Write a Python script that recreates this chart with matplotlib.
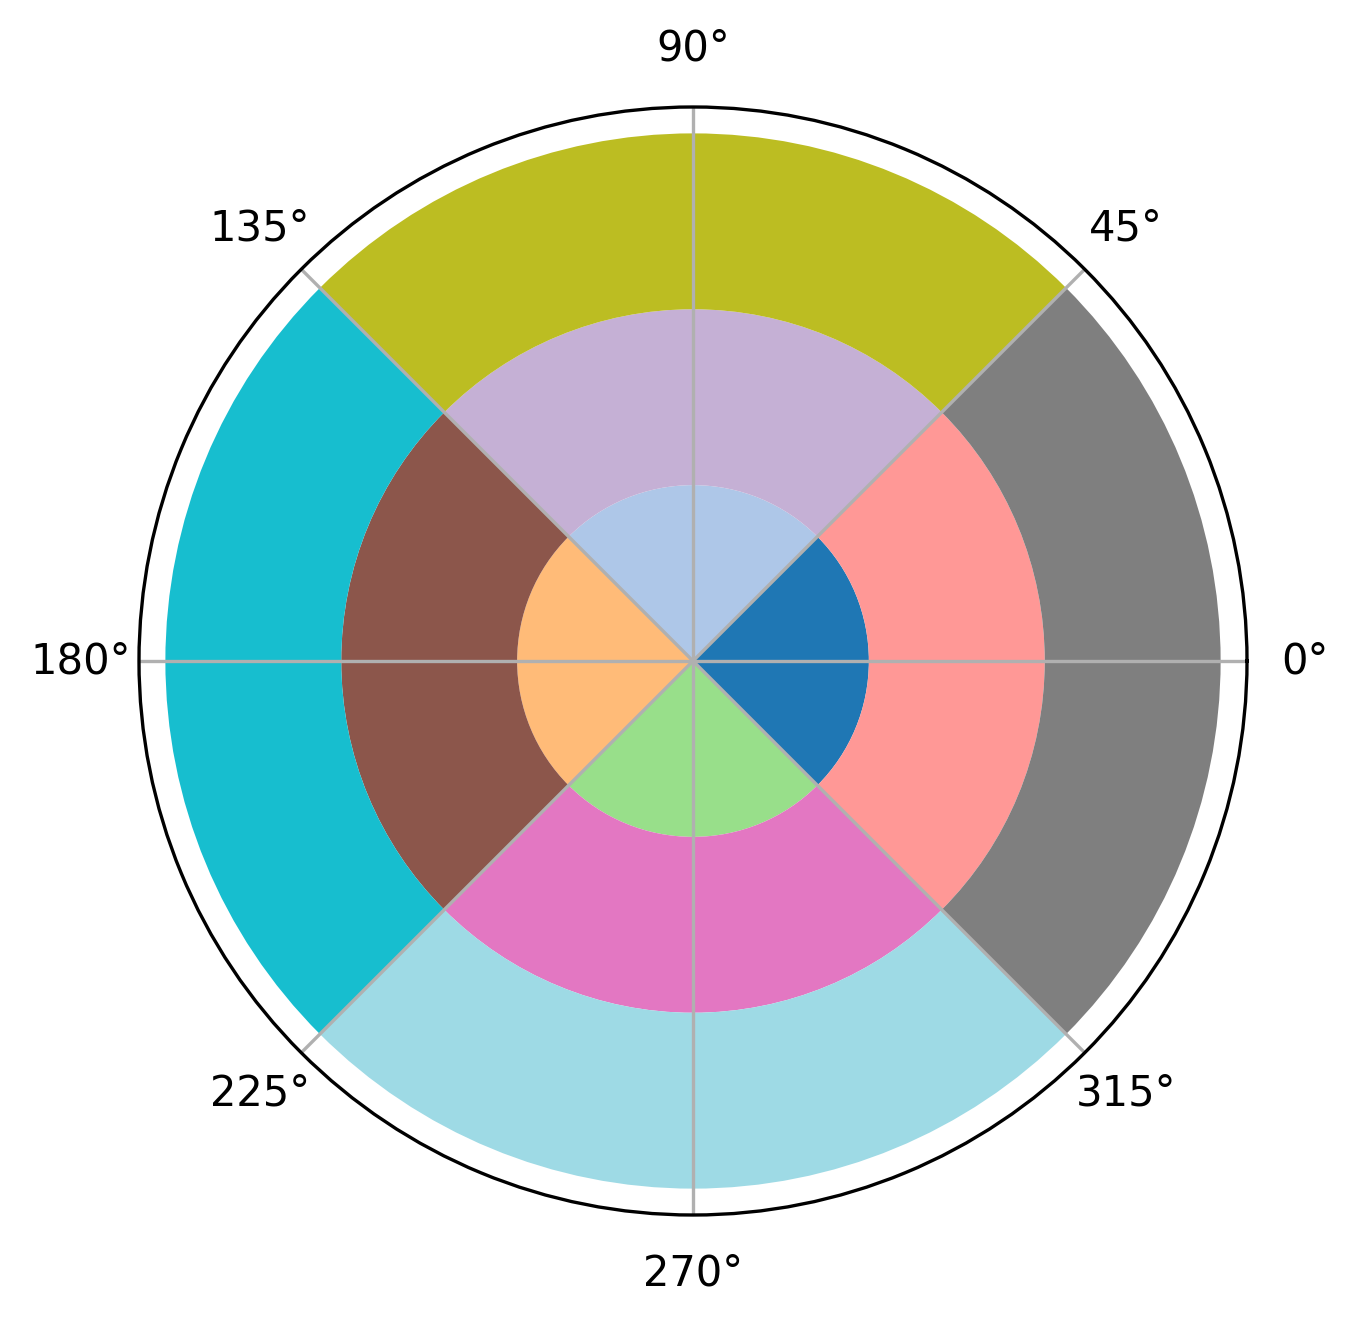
import numpy as np
import matplotlib
matplotlib.use("Agg")
import matplotlib.pyplot as plt

# Data
angles_deg = [0, 90, 180, 270]
ring_bottoms = [0, 1, 2]
ring_heights = [1, 1, 1]
seg_width_deg = 90

colors = plt.cm.tab20(np.linspace(0, 1, 12))

W, H = 1359, 1325
dpi = 300
fig = plt.figure(figsize=(W / dpi, H / dpi), dpi=dpi)
ax = fig.add_axes([139 / W, (H - 1215) / H, 1108 / W, 1108 / H], projection="polar")

theta = np.deg2rad(angles_deg)
k = 0
for b, h in zip(ring_bottoms, ring_heights):
    ax.bar(theta, [h] * len(theta), width=np.deg2rad(seg_width_deg), bottom=b,
           color=colors[k:k + len(theta)], edgecolor="none", linewidth=0)
    k += len(theta)

ax.set_ylim(0, 3.15)
ax.set_yticks([])
ax.set_thetagrids(np.arange(0, 360, 45))
fig.savefig("out.png", dpi=dpi)
